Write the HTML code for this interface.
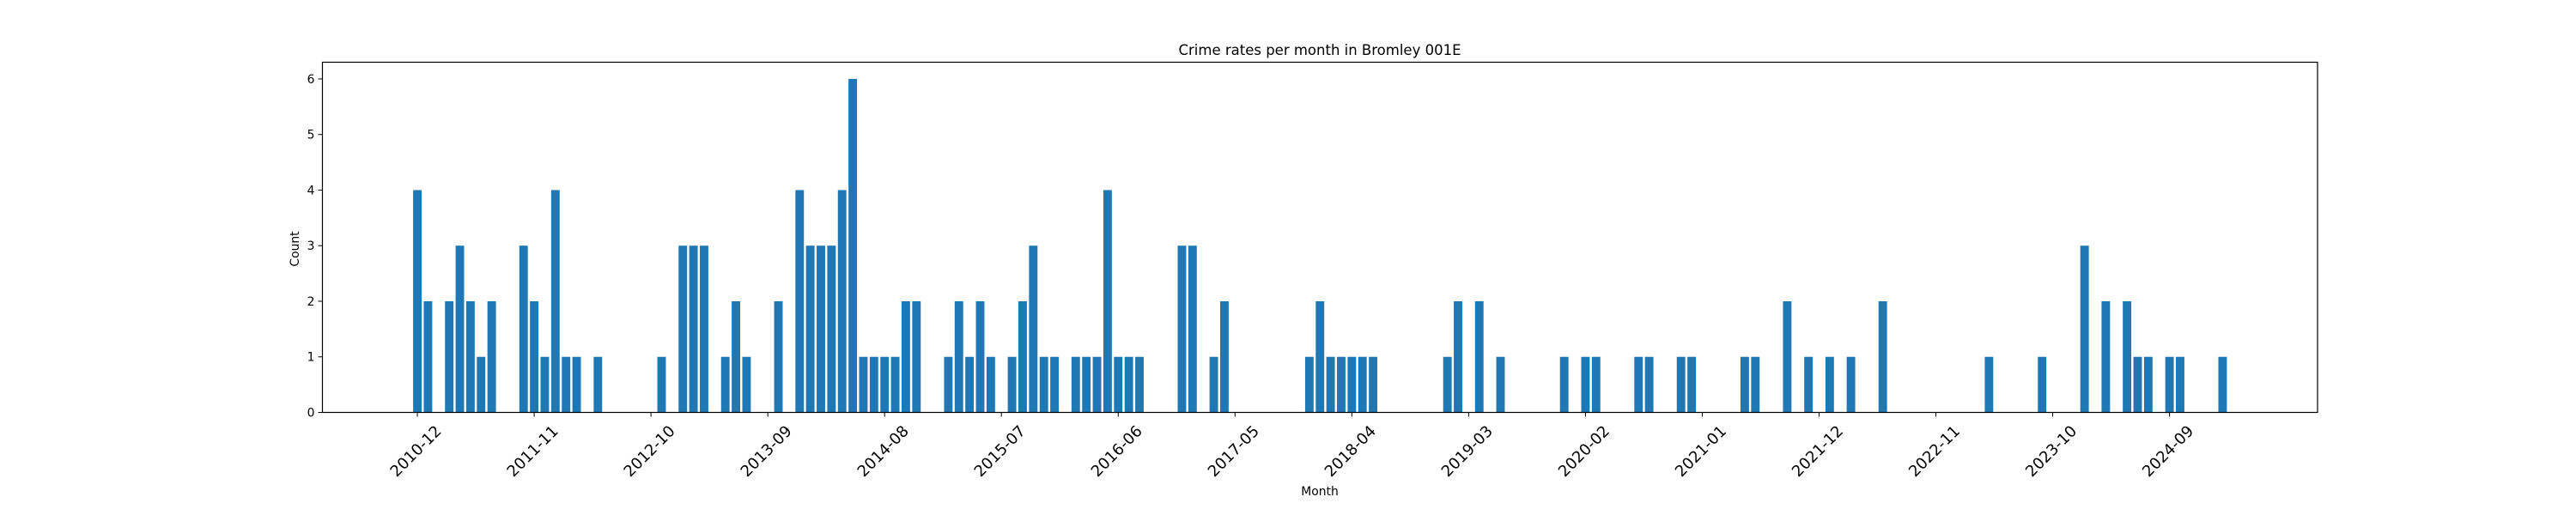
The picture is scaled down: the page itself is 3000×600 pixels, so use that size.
<!DOCTYPE html>
<html><head><meta charset="utf-8"><title>Crime rates per month in Bromley 001E</title>
<style>html,body{margin:0;padding:0;background:#fff;}svg{display:block;font-family:"DejaVu Sans","Liberation Sans",sans-serif;}</style>
</head><body>
<svg id="chart" width="3000" height="600" viewBox="0 0 3000 600" xmlns="http://www.w3.org/2000/svg">
<rect x="0" y="0" width="3000" height="600" fill="#fff"/>
<text x="1537" y="64" font-size="16.5" text-anchor="middle">Crime rates per month in Bromley 001E</text>
<text x="1537" y="577" font-size="13.9" text-anchor="middle">Month</text>
<text transform="translate(348,290) rotate(-90)" font-size="13.9" text-anchor="middle">Count</text>
<g id="bars"></g>
<g id="yticks"></g>
<g id="xticks"></g>
<rect x="375.5" y="72.5" width="2323.5" height="408" fill="none" stroke="#000" stroke-width="1.2"/>
</svg>
<script>
const startYear = 2010, startMonth = 12;
const values = [
4,2,0,2,3,2,1,2,0,0,
3,2,1,4,1,1,0,1,0,0,
0,0,0,1,0,3,3,3,0,1,
2,1,0,0,2,0,4,3,3,3,
4,6,1,1,1,1,2,2,0,0,
1,2,1,2,1,0,1,2,3,1,
1,0,1,1,1,4,1,1,1,0,
0,0,3,3,0,1,2,0,0,0,
0,0,0,0,1,2,1,1,1,1,
1,0,0,0,0,0,0,1,2,0,
2,0,1,0,0,0,0,0,1,0,
1,1,0,0,0,1,1,0,0,1,
1,0,0,0,0,1,1,0,0,2,
0,1,0,1,0,1,0,0,2,0,
0,0,0,0,0,0,0,0,1,0,
0,0,0,1,0,0,0,3,0,2,
0,2,1,1,0,1,1,0,0,0,
1];
const yTicks = [0,1,2,3,4,5,6];
const xTickLabels = ["2010-12","2011-11","2012-10","2013-09","2014-08","2015-07","2016-06","2017-05","2018-04","2019-03","2020-02","2021-01","2021-12","2022-11","2023-10","2024-09"];
const categories = values.map((v,i)=>{const m=startMonth-1+i;const y=startYear+Math.floor(m/12);return y+"-"+String(m%12+1).padStart(2,"0");});

const NS="http://www.w3.org/2000/svg";
const axL=375.5, axR=2699, axT=72.5, axB=480.5;
const n=categories.length;
const span=(n-1+0.8);
const xMin=-0.4-0.05*span, xMax=(n-1)+0.4+0.05*span;
const yMin=0, yMax=6.3;
function xScale(i){return axL+(i-xMin)/(xMax-xMin)*(axR-axL);}
function yScale(v){return axB-(v-yMin)/(yMax-yMin)*(axB-axT);}
const bw=0.8*(xScale(1)-xScale(0));

const gb=document.getElementById('bars');
values.forEach((v,i)=>{
  if(v<=0) return;
  const r=document.createElementNS(NS,'rect');
  r.setAttribute('x',xScale(i)-bw/2);
  r.setAttribute('width',bw);
  r.setAttribute('y',yScale(v));
  r.setAttribute('height',yScale(0)-yScale(v));
  r.setAttribute('fill','#1f77b4');
  
  
  gb.appendChild(r);
});

const gy=document.getElementById('yticks');
yTicks.forEach(t=>{
  const y=yScale(t);
  const l=document.createElementNS(NS,'line');
  l.setAttribute('x1',axL-5);l.setAttribute('x2',axL);l.setAttribute('y1',y);l.setAttribute('y2',y);
  l.setAttribute('stroke','#000');l.setAttribute('stroke-width','1');
  
  
  gy.appendChild(l);
  const tx=document.createElementNS(NS,'text');
  tx.setAttribute('x',axL-9);tx.setAttribute('y',y+5);
  tx.setAttribute('font-size','13.9');tx.setAttribute('text-anchor','end');
  tx.textContent=String(t);
  
  
  gy.appendChild(tx);
});

const gx=document.getElementById('xticks');
xTickLabels.forEach(lab=>{
  const i=categories.indexOf(lab);
  const x=xScale(i);
  const l=document.createElementNS(NS,'line');
  l.setAttribute('x1',x);l.setAttribute('x2',x);l.setAttribute('y1',axB);l.setAttribute('y2',axB+5);
  l.setAttribute('stroke','#000');l.setAttribute('stroke-width','1');
  
  
  gx.appendChild(l);
  const cx=x-1.5, cy=526;
  const tx=document.createElementNS(NS,'text');
  tx.setAttribute('x',cx);tx.setAttribute('y',cy);
  tx.setAttribute('font-size','18');tx.setAttribute('text-anchor','middle');
  tx.setAttribute('dominant-baseline','central');
  tx.setAttribute('transform','rotate(-45 '+cx+' '+cy+')');
  tx.textContent=lab;
  
  
  gx.appendChild(tx);
});
</script>
</body></html>
